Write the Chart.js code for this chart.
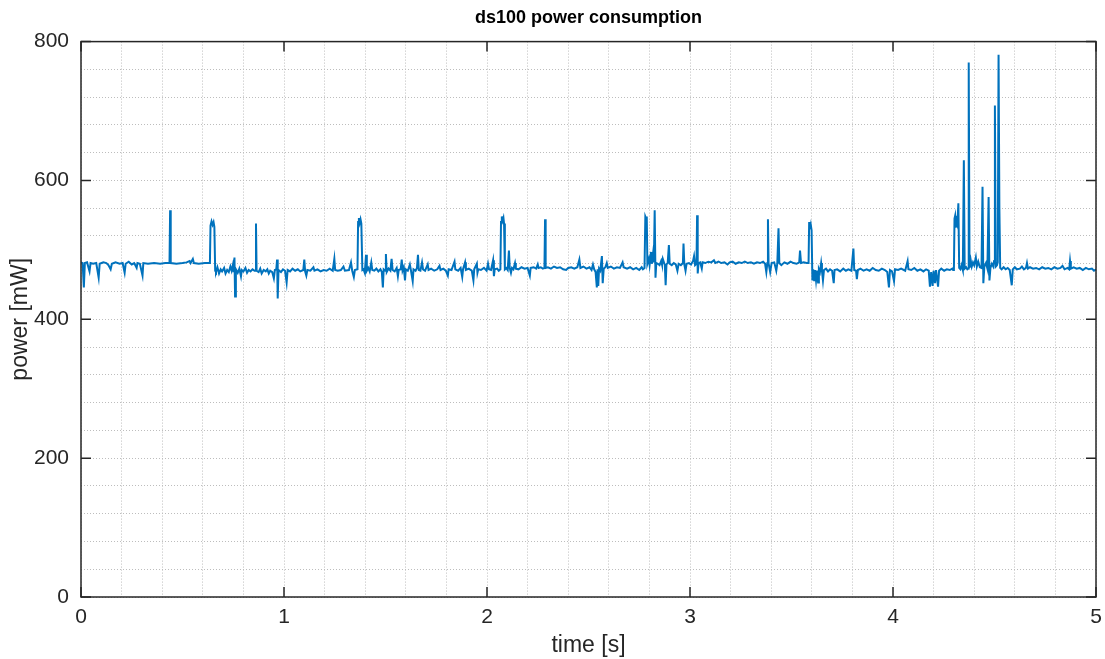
<!DOCTYPE html>
<html>
<head>
<meta charset="utf-8">
<title>ds100 power consumption</title>
<script src="https://cdn.jsdelivr.net/npm/chart.js@4.4.1/dist/chart.umd.min.js"></script>
<style>
  html, body { margin: 0; padding: 0; background: #fff; }
  canvas { display: block; }
</style>
</head>
<body>
<canvas id="chart" width="1105" height="659"></canvas>
<script>
// chart texts
const chartTitle = 'ds100 power consumption';
const xTitle = 'time [s]';
const yTitle = 'power [mW]';

// major ticks (labelled) and the minor grid step
const xMajorTicks = [0, 1, 2, 3, 4, 5];
const yMajorTicks = [0, 200, 400, 600, 800];
const xMinorStep = 0.2;
const yMinorStep = 40;

// samples: time in seconds
const timeS = [
  // 0 - 0.66 s
  0.000, 0.008, 0.014, 0.019, 0.030, 0.042, 0.047, 0.060, 0.075, 0.087,
  0.092, 0.110, 0.125, 0.135, 0.146, 0.152, 0.170, 0.190, 0.205, 0.215,
  0.220, 0.235, 0.250, 0.262, 0.274, 0.278, 0.290, 0.303, 0.307, 0.330,
  0.360, 0.390, 0.415, 0.436, 0.439, 0.442, 0.470, 0.500, 0.520, 0.535,
  0.540, 0.551, 0.556, 0.580, 0.610, 0.635, 0.638, 0.643, 0.648, 0.653,
  0.657, 0.661,
  // 0.66 - 1.39 s
  0.665, 0.672, 0.680, 0.688, 0.695, 0.705, 0.712, 0.720, 0.728, 0.736,
  0.742, 0.748, 0.752, 0.756, 0.759, 0.763, 0.772, 0.780, 0.788, 0.792,
  0.800, 0.810, 0.818, 0.826, 0.835, 0.845, 0.855, 0.859, 0.862, 0.865,
  0.875, 0.883, 0.890, 0.900, 0.910, 0.918, 0.925, 0.932, 0.942, 0.950,
  0.955, 0.962, 0.966, 0.969, 0.973, 0.985, 0.995, 1.005, 1.013, 1.018,
  1.030, 1.042, 1.055, 1.068, 1.080, 1.095, 1.100, 1.104, 1.110, 1.115,
  1.130, 1.145, 1.150, 1.165, 1.180, 1.195, 1.210, 1.225, 1.240, 1.248,
  1.252, 1.265, 1.280, 1.293, 1.300, 1.320, 1.330, 1.336, 1.344, 1.349,
  1.362, 1.365, 1.369, 1.373, 1.377, 1.381, 1.386,
  // 1.39 - 2.09 s
  1.392, 1.398, 1.404, 1.408, 1.415, 1.422, 1.430, 1.435, 1.445, 1.455,
  1.465, 1.475, 1.482, 1.487, 1.491, 1.499, 1.502, 1.506, 1.515, 1.524,
  1.530, 1.535, 1.545, 1.555, 1.561, 1.565, 1.575, 1.580, 1.584, 1.590,
  1.596, 1.600, 1.610, 1.620, 1.625, 1.634, 1.638, 1.648, 1.655, 1.660,
  1.664, 1.672, 1.680, 1.685, 1.695, 1.708, 1.712, 1.725, 1.740, 1.755,
  1.766, 1.771, 1.785, 1.797, 1.807, 1.811, 1.825, 1.840, 1.844, 1.858,
  1.870, 1.878, 1.882, 1.892, 1.896, 1.910, 1.925, 1.933, 1.937, 1.950,
  1.953, 1.957, 1.970, 1.985, 1.998, 2.005, 2.010, 2.020, 2.030, 2.034,
  2.038, 2.050, 2.058, 2.066, 2.069, 2.073, 2.077, 2.081, 2.084, 2.088,
  // 2.09 - 2.77 s
  2.095, 2.102, 2.108, 2.112, 2.118, 2.123, 2.130, 2.138, 2.142, 2.155,
  2.170, 2.185, 2.200, 2.211, 2.215, 2.230, 2.242, 2.250, 2.254, 2.265,
  2.275, 2.283, 2.286, 2.289, 2.300, 2.315, 2.330, 2.345, 2.360, 2.375,
  2.390, 2.400, 2.415, 2.430, 2.445, 2.455, 2.460, 2.475, 2.490, 2.505,
  2.515, 2.522, 2.528, 2.535, 2.541, 2.545, 2.548, 2.552, 2.558, 2.566,
  2.570, 2.575, 2.583, 2.590, 2.595, 2.610, 2.625, 2.640, 2.655, 2.668,
  2.673, 2.690, 2.705, 2.720, 2.735, 2.750, 2.762, 2.768,
  // 2.77 - 3.60 s
  2.776, 2.780, 2.784, 2.787, 2.790, 2.797, 2.801, 2.808, 2.812, 2.818,
  2.822, 2.826, 2.830, 2.834, 2.842, 2.850, 2.858, 2.862, 2.866, 2.876,
  2.880, 2.884, 2.890, 2.896, 2.900, 2.910, 2.920, 2.930, 2.938, 2.944,
  2.955, 2.965, 2.968, 2.972, 2.978, 2.983, 2.995, 3.005, 3.015, 3.020,
  3.025, 3.032, 3.035, 3.038, 3.042, 3.050, 3.058, 3.062, 3.075, 3.090,
  3.105, 3.118, 3.125, 3.140, 3.155, 3.170, 3.185, 3.195, 3.210, 3.225,
  3.240, 3.255, 3.270, 3.285, 3.300, 3.315, 3.330, 3.345, 3.360, 3.370,
  3.376, 3.381, 3.384, 3.387, 3.395, 3.402, 3.415, 3.425, 3.430, 3.436,
  3.440, 3.450, 3.465, 3.480, 3.495, 3.510, 3.525, 3.538, 3.542, 3.547,
  3.560, 3.575, 3.584, 3.587, 3.591, 3.595, 3.599, 3.603,
  // 3.60 - 4.29 s
  3.607, 3.612, 3.616, 3.621, 3.626, 3.631, 3.635, 3.640, 3.646, 3.650,
  3.655, 3.660, 3.670, 3.680, 3.690, 3.700, 3.708, 3.712, 3.725, 3.740,
  3.755, 3.768, 3.780, 3.795, 3.805, 3.809, 3.818, 3.822, 3.827, 3.840,
  3.855, 3.870, 3.885, 3.900, 3.915, 3.930, 3.945, 3.960, 3.972, 3.980,
  3.985, 3.995, 4.005, 4.010, 4.025, 4.040, 4.060, 4.072, 4.076, 4.090,
  4.105, 4.120, 4.135, 4.150, 4.163, 4.176, 4.182, 4.188, 4.195, 4.200,
  4.207, 4.212, 4.222, 4.227, 4.238, 4.252, 4.265, 4.280, 4.292,
  // 4.29 - 4.53 s, the burst
  4.296, 4.300, 4.303, 4.306, 4.309, 4.313, 4.317, 4.322, 4.326, 4.332,
  4.338, 4.344, 4.349, 4.353, 4.360, 4.366, 4.370, 4.373, 4.377, 4.383,
  4.388, 4.394, 4.400, 4.408, 4.413, 4.420, 4.428, 4.436, 4.441, 4.445,
  4.450, 4.458, 4.465, 4.471, 4.475, 4.480, 4.487, 4.494, 4.498, 4.502,
  4.506, 4.512, 4.516, 4.520, 4.524, 4.528,
  // 4.53 - 5 s
  4.535, 4.545, 4.555, 4.565, 4.575, 4.585, 4.590, 4.600, 4.610, 4.625,
  4.635, 4.645, 4.655, 4.660, 4.665, 4.675, 4.690, 4.705, 4.720, 4.735,
  4.750, 4.765, 4.780, 4.795, 4.810, 4.825, 4.835, 4.845, 4.860, 4.868,
  4.872, 4.876, 4.890, 4.905, 4.920, 4.935, 4.950, 4.965, 4.980, 4.990,
  5.000
];

// power in mW, same order as timeS
const powerMW = [
  // 0 - 0.66 s
  482, 481, 446, 481, 482, 469, 481, 480, 481, 460,
  480, 482, 481, 478, 472, 480, 482, 480, 481, 467,
  480, 483, 479, 481, 474, 481, 480, 463, 481, 480,
  481, 480, 481, 481, 557, 481, 480, 481, 482, 484,
  481, 487, 481, 480, 481, 481, 535, 541, 536, 540,
  533, 470,
  // 0.66 - 1.39 s
  468, 475, 466, 472, 469, 474, 466, 471, 468, 476,
  470, 478, 468, 489, 433, 472, 467, 473, 462, 471,
  469, 474, 467, 471, 469, 472, 470, 470, 538, 470,
  468, 473, 466, 471, 469, 472, 466, 470, 468, 459,
  471, 472, 486, 430, 471, 468, 472, 470, 453, 471,
  469, 473, 470, 472, 469, 471, 486, 469, 463, 471,
  470, 475, 470, 472, 469, 471, 470, 473, 470, 487,
  471, 470, 471, 476, 470, 471, 482, 470, 461, 471,
  472, 540, 546, 539, 544, 538, 471,
  // 1.39 - 2.09 s
  472, 467, 493, 470, 474, 469, 482, 471, 470, 473,
  469, 472, 468, 446, 472, 470, 494, 468, 473, 470,
  487, 471, 469, 474, 462, 471, 472, 486, 470, 475,
  456, 472, 470, 479, 471, 455, 472, 470, 474, 493,
  471, 470, 482, 472, 470, 479, 471, 473, 470, 472,
  477, 471, 473, 470, 463, 472, 471, 483, 472, 470,
  474, 461, 472, 482, 471, 473, 470, 456, 472, 480,
  467, 472, 471, 474, 470, 480, 472, 471, 485, 462,
  472, 473, 470, 472, 540, 548, 542, 546, 538, 472,
  // 2.09 - 2.77 s
  474, 471, 499, 474, 467, 474, 472, 481, 473, 472,
  475, 473, 474, 463, 474, 475, 473, 479, 474, 475,
  473, 474, 544, 474, 475, 473, 476, 474, 475, 472,
  471, 474, 475, 473, 475, 486, 474, 476, 473, 475,
  471, 479, 472, 468, 446, 472, 448, 473, 470, 491,
  452, 473, 475, 481, 474, 476, 473, 475, 474, 482,
  475, 473, 475, 472, 474, 471, 475, 472,
  // 2.77 - 3.60 s
  474, 548, 545, 548, 480, 487, 478, 497, 480, 495,
  482, 557, 460, 481, 480, 478, 484, 479, 487, 478,
  449, 479, 481, 507, 480, 478, 481, 479, 470, 480,
  478, 481, 509, 479, 470, 480, 481, 479, 484, 491,
  478, 480, 550, 466, 481, 482, 473, 482, 481, 483,
  482, 485, 481, 483, 481, 482, 479, 482, 483, 480,
  482, 481, 483, 481, 482, 480, 482, 481, 483, 480,
  468, 481, 544, 481, 468, 481, 482, 470, 480, 531,
  481, 478, 482, 480, 483, 481, 480, 482, 499, 481,
  482, 481, 481, 540, 530, 536, 528, 456,
  // 3.60 - 4.29 s
  472, 455, 471, 456, 470, 453, 472, 468, 481, 470,
  456, 471, 473, 469, 472, 470, 452, 471, 472, 469,
  473, 470, 472, 470, 502, 471, 470, 458, 471, 473,
  470, 472, 470, 474, 471, 470, 473, 471, 468, 446,
  471, 469, 455, 472, 471, 473, 470, 484, 472, 471,
  474, 470, 472, 469, 472, 470, 447, 468, 448, 470,
  452, 471, 447, 470, 473, 470, 472, 471, 473,
  // 4.29 - 4.53 s, the burst
  471, 472, 545, 549, 532, 540, 536, 567, 474, 472,
  478, 471, 629, 473, 475, 472, 473, 770, 474, 485,
  476, 482, 478, 489, 476, 483, 475, 474, 591, 452,
  476, 481, 473, 576, 456, 474, 480, 476, 484, 708,
  476, 478, 482, 781, 561, 474,
  // 4.53 - 5 s
  472, 475, 472, 474, 471, 449, 472, 475, 472, 473,
  476, 472, 474, 481, 473, 475, 473, 474, 472, 475,
  473, 474, 472, 475, 473, 474, 477, 472, 474, 472,
  484, 473, 475, 473, 474, 471, 474, 472, 473, 470,
  472
];

if (timeS.length !== powerMW.length) {
  console.warn('timeS and powerMW differ in length', timeS.length, powerMW.length);
}

const points = timeS.map((t, i) => ({ x: t, y: powerMW[i] }));

const FONT = '"Liberation Sans", Arial, Helvetica, sans-serif';
const INK = '#262626';

// box round the plot and the inward major ticks on all four sides
const frameAndTicks = {
  id: 'frameAndTicks',
  afterDatasetsDraw(chart) {
    const { ctx, chartArea: a, scales: { x, y } } = chart;
    const len = 10;
    ctx.save();
    ctx.strokeStyle = INK;
    ctx.lineWidth = 1.5;
    ctx.strokeRect(a.left, a.top, a.right - a.left, a.bottom - a.top);
    ctx.beginPath();
    xMajorTicks.forEach(v => {
      const px = x.getPixelForValue(v);
      ctx.moveTo(px, a.bottom); ctx.lineTo(px, a.bottom - len);
      ctx.moveTo(px, a.top); ctx.lineTo(px, a.top + len);
    });
    yMajorTicks.forEach(v => {
      const py = y.getPixelForValue(v);
      ctx.moveTo(a.left, py); ctx.lineTo(a.left + len, py);
      ctx.moveTo(a.right, py); ctx.lineTo(a.right - len, py);
    });
    ctx.stroke();
    ctx.restore();
  }
};

const isMajor = (v, list) => list.some(m => Math.abs(m - v) < 1e-6);

new Chart(document.getElementById('chart'), {
  type: 'scatter',
  data: {
    datasets: [{
      data: points,
      showLine: true,
      borderColor: '#0072BD',
      borderWidth: 2,
      pointRadius: 0,
      pointHoverRadius: 0,
      tension: 0
    }]
  },
  options: {
    responsive: false,
    animation: false,
    devicePixelRatio: 1,
    layout: { padding: { left: 0, right: 9, top: 0, bottom: 0 } },
    plugins: {
      legend: { display: false },
      tooltip: { enabled: false },
      title: {
        display: true,
        text: chartTitle,
        fullSize: false,
        color: '#000',
        font: { family: FONT, size: 18, weight: 'bold' },
        padding: { top: 7, bottom: 13 }
      }
    },
    scales: {
      x: {
        type: 'linear',
        min: 0,
        max: 5,
        afterFit(scale) {
          scale.height = 62;
          scale.paddingLeft = 0;
          scale.paddingRight = 0;
        },
        border: { display: false, dash: [1, 2] },
        grid: { color: '#bdbdbd', lineWidth: 1, drawTicks: false },
        ticks: {
          stepSize: xMinorStep,
          autoSkip: false,
          maxRotation: 0,
          padding: 8,
          color: INK,
          font: { family: FONT, size: 21 },
          callback: v => isMajor(v, xMajorTicks) ? String(Math.round(v)) : ''
        },
        title: {
          display: true,
          text: xTitle,
          color: INK,
          font: { family: FONT, size: 23 },
          padding: { top: 2, bottom: 0 }
        }
      },
      y: {
        type: 'linear',
        min: 0,
        max: 800,
        afterFit(scale) { scale.width = 81; },
        border: { display: false, dash: [1, 2] },
        grid: { color: '#bdbdbd', lineWidth: 1, drawTicks: false },
        ticks: {
          stepSize: yMinorStep,
          autoSkip: false,
          padding: 12,
          color: INK,
          font: { family: FONT, size: 21 },
          callback: v => isMajor(v, yMajorTicks) ? String(v) : ''
        },
        title: {
          display: true,
          text: yTitle,
          color: INK,
          font: { family: FONT, size: 23 },
          padding: { top: 7, bottom: 0 }
        }
      }
    }
  },
  plugins: [frameAndTicks]
});
</script>
</body>
</html>
